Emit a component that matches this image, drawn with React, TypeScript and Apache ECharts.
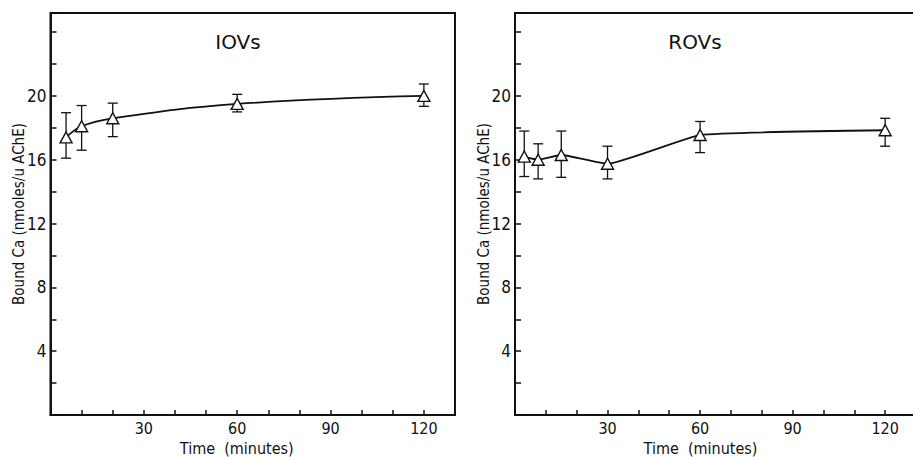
import React, { useEffect, useRef } from "react";
import * as echarts from "echarts";

const xLabeledTicks = [30, 60, 90, 120];
const yLabeledTicks = [4, 8, 12, 16, 20];

const iovTime = [5, 10, 20, 60, 120];
const iovMean = [17.4, 18.1, 18.6, 19.5, 20.0];
const iovHigh = [18.95, 19.4, 19.55, 20.1, 20.75];
const iovLow = [16.1, 16.6, 17.45, 19.0, 19.35];

const rovTime = [3, 7.5, 15, 30, 60, 120];
const rovMean = [16.2, 16.0, 16.3, 15.75, 17.55, 17.85];
const rovHigh = [17.8, 17.0, 17.8, 16.85, 18.4, 18.6];
const rovLow = [14.95, 14.8, 14.9, 14.8, 16.45, 16.85];

const FONT = "'DejaVu Sans Condensed', 'DejaVu Sans', sans-serif";
const TITLE_FONT = "'DejaVu Sans', sans-serif";
const INK = "#111";

export default function App() {
  const ref = useRef<HTMLDivElement>(null);
  useEffect(() => {
    if (!ref.current) return;
    const chart = echarts.init(ref.current, undefined, { renderer: "svg" });

    const xBottom = (grid: number, max: number, shift: number) => ({
      type: "value",
      gridIndex: grid,
      min: 0,
      max,
      interval: 10,
      position: "bottom",
      name: "Time  (minutes)",
      nameLocation: "middle",
      nameGap: 25,
      nameMoveOverlap: false,
      nameTextStyle: {
        fontFamily: FONT,
        fontSize: 16,
        lineHeight: 16,
        color: INK,
        padding: [0, shift, 0, 0],
      },
      axisLine: { show: true, onZero: false, lineStyle: { color: INK, width: 2 } },
      axisTick: { show: true, inside: true, length: 5, lineStyle: { color: INK, width: 1.5 } },
      axisLabel: {
        show: true,
        margin: 5,
        fontFamily: FONT,
        fontSize: 16,
        lineHeight: 16,
        color: INK,
        formatter: (v: number) => (xLabeledTicks.includes(v) ? String(v) : ""),
      },
      splitLine: { show: false },
    });

    const yMain = (grid: number) => ({
      type: "value",
      gridIndex: grid,
      min: 0,
      max: 25.2,
      interval: 2,
      position: "left",
      name: "Bound Ca (nmoles/u AChE)",
      nameLocation: "middle",
      nameGap: 24,
      nameMoveOverlap: false,
      nameTextStyle: { fontFamily: FONT, fontSize: 15, color: INK },
      axisLine: { show: true, onZero: false, lineStyle: { color: INK, width: 2 } },
      axisTick: { show: true, inside: true, length: 6, lineStyle: { color: INK, width: 1.5 } },
      axisLabel: {
        show: true,
        margin: 4,
        fontFamily: FONT,
        fontSize: 17,
        color: INK,
        formatter: (v: number) => (yLabeledTicks.includes(v) ? String(v) : ""),
      },
      splitLine: { show: false },
    });

    const frameTop = (grid: number, max: number) => ({
      type: "value",
      gridIndex: grid,
      min: 0,
      max,
      position: "top",
      axisLine: { show: true, onZero: false, lineStyle: { color: INK, width: 2 } },
      axisTick: { show: false },
      axisLabel: { show: false },
      splitLine: { show: false },
    });

    const errorSeries = (xi: number, yi: number, t: number[], lo: number[], hi: number[]) => ({
      type: "custom",
      xAxisIndex: xi,
      yAxisIndex: yi,
      z: 2,
      data: t.map((x, i) => [x, lo[i], hi[i]]),
      encode: { x: 0, y: [1, 2] },
      renderItem: (params: any, api: any) => {
        const x = api.value(0);
        const pLo = api.coord([x, api.value(1)]);
        const pHi = api.coord([x, api.value(2)]);
        const w = 5;
        const style = { stroke: INK, lineWidth: 1.3 };
        return {
          type: "group",
          children: [
            { type: "line", shape: { x1: pLo[0], y1: pLo[1], x2: pHi[0], y2: pHi[1] }, style },
            { type: "line", shape: { x1: pHi[0] - w, y1: pHi[1], x2: pHi[0] + w, y2: pHi[1] }, style },
            { type: "line", shape: { x1: pLo[0] - w, y1: pLo[1], x2: pLo[0] + w, y2: pLo[1] }, style },
          ],
        };
      },
    });

    const meanSeries = (xi: number, yi: number, t: number[], m: number[], smooth: number) => ({
      type: "line",
      xAxisIndex: xi,
      yAxisIndex: yi,
      z: 3,
      smooth,
      data: t.map((x, i) => [x, m[i]]),
      symbol: "triangle",
      symbolSize: [12, 11],
      lineStyle: { color: INK, width: 1.8 },
      itemStyle: { color: "#fff", borderColor: INK, borderWidth: 1.4 },
    });

    chart.setOption({
      animation: false,
      backgroundColor: "#fff",
      grid: [
        {
          left: 50.5, top: 13, width: 404.5, height: 402,
          outerBoundsMode: "none", containLabel: false,
          show: true, borderColor: INK, borderWidth: 2, backgroundColor: "transparent",
        },
        {
          left: 515, top: 13, width: 401, height: 402,
          outerBoundsMode: "none", containLabel: false, show: false,
        },
      ],
      xAxis: [xBottom(0, 130, 32), xBottom(1, 130, 30), frameTop(1, 130)],
      yAxis: [yMain(0), yMain(1)],
      graphic: [
        {
          type: "text",
          x: 238,
          y: 42,
          style: { text: "IOVs", fontFamily: TITLE_FONT, fontSize: 20, fill: INK, textAlign: "center", textVerticalAlign: "middle" },
        },
        {
          type: "text",
          x: 695,
          y: 42,
          style: { text: "ROVs", fontFamily: TITLE_FONT, fontSize: 20, fill: INK, textAlign: "center", textVerticalAlign: "middle" },
        },
      ],
      series: [
        errorSeries(0, 0, iovTime, iovLow, iovHigh),
        meanSeries(0, 0, iovTime, iovMean, 0.4),
        errorSeries(1, 1, rovTime, rovLow, rovHigh),
        meanSeries(1, 1, rovTime, rovMean, 0.12),
      ],
    });

    return () => chart.dispose();
  }, []);

  return (
    <div
      ref={ref}
      style={{ position: "fixed", left: 0, top: 0, width: 913, height: 457, background: "#fff" }}
    />
  );
}
